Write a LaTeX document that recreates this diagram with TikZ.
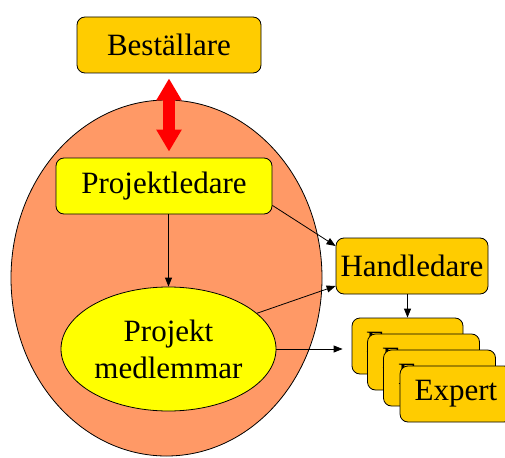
\documentclass[tikz,border=0pt]{standalone}
\usepackage{fontspec}
\setmainfont{Liberation Serif}
\newfontfamily\timesfont{Liberation Serif}
\usetikzlibrary{arrows.meta,calc,shapes.geometric}
\definecolor{boxorange}{HTML}{FFCC00}
\definecolor{teamfill}{HTML}{FF9966}
\definecolor{yel}{HTML}{FFFF00}
\tikzset{
  box/.style={draw=black, line width=0.8pt, rounded corners=8pt, fill=boxorange, minimum height=56pt, inner sep=0pt, font=\timesfont\fontsize{31}{35}\selectfont},
  ybox/.style={box, fill=yel},
  conn/.style={draw=black, line width=0.8pt, -{Triangle[length=9pt,width=7pt]}},
  bigarrow/.style={draw=red, line width=12pt, {Triangle[length=22pt,width=24pt]}-{Triangle[length=22pt,width=24pt]}}
}
\begin{document}
\begin{tikzpicture}[x=1pt,y=-1pt]
\useasboundingbox (0,0) rectangle (505,457);
\clip (0,0) rectangle (505,457);
\node[ellipse, draw=black, line width=0.8pt, fill=teamfill, minimum width=311pt, minimum height=356pt, inner sep=0pt] (team) at (166.5,278) {};
\node[box, minimum width=184pt] (best) at (169,45) {Beställare};
\node[ybox, minimum width=216pt] (pl) at (164,186) {Projektledare};
\node[ellipse, draw=black, line width=0.8pt, fill=yel, minimum width=215pt, minimum height=124pt, inner sep=0pt, align=center, font=\timesfont\fontsize{31}{37}\selectfont] (pm) at (168.5,349) {Projekt\\medlemmar};
\node[box, minimum width=152pt] (hl) at (412,266) {Handledare};
\node[box, minimum width=111pt] (ex1) at (407.5,346) {Expert};
\node[box, minimum width=112pt] (ex2) at (423.5,362) {Expert};
\node[box, minimum width=112pt] (ex3) at (439.5,378) {Expert};
\node[box, minimum width=112pt] (ex4) at (456,394) {Expert};
\draw[bigarrow, shorten <=5pt, shorten >=6pt] (best.south) -- (best.south |- pl.north);
\draw[conn] (pm.north |- pl.south) -- (pm.north);
\draw[conn] ([yshift=9pt]pl.south east) -- ([yshift=20pt]hl.west);
\draw[conn] (pm.22) -- ([yshift=-20pt]hl.west);
\draw[conn] (ex1.north |- hl.south) -- (ex1.north);
\draw[conn, shorten >=9pt] (pm.east) -- (pm.east -| ex1.west);
\end{tikzpicture}
\end{document}
